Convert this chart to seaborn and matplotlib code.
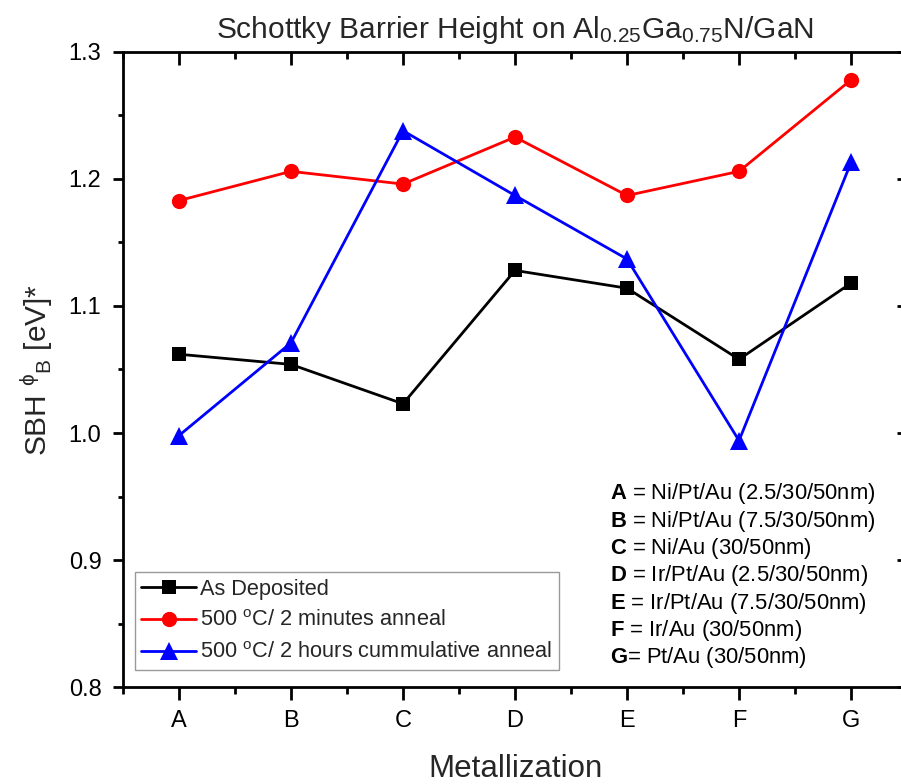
import matplotlib
matplotlib.use("Agg")
import matplotlib.pyplot as plt
import seaborn as sns
import pandas as pd
from matplotlib.ticker import MultipleLocator, FormatStrFormatter
from matplotlib.lines import TICKDOWN, TICKLEFT

sns.set_theme(style="white")
plt.rcParams["font.family"] = ["Liberation Sans", "DejaVu Sans"]
plt.rcParams["mathtext.fontset"] = "custom"
plt.rcParams["mathtext.rm"] = "Liberation Sans"
plt.rcParams["mathtext.it"] = "Liberation Sans:italic"
plt.rcParams["mathtext.bf"] = "Liberation Sans:bold"

categories = ["A", "B", "C", "D", "E", "F", "G"]
as_deposited = [1.062, 1.054, 1.023, 1.128, 1.114, 1.058, 1.118]
anneal_2min = [1.183, 1.206, 1.196, 1.233, 1.187, 1.206, 1.278]
anneal_2h = [0.998, 1.071, 1.238, 1.187, 1.137, 0.994, 1.213]

series_names = [
    "As Deposited",
    r"500 $^{\rm o}$C/ 2 minutes anneal",
    r"500 $^{\rm o}$C/ 2 hours cummulative anneal",
]
metallizations = [
    ("A", " = Ni/Pt/Au (2.5/30/50nm)"),
    ("B", " = Ni/Pt/Au (7.5/30/50nm)"),
    ("C", " = Ni/Au (30/50nm)"),
    ("D", " = Ir/Pt/Au (2.5/30/50nm)"),
    ("E", " = Ir/Pt/Au (7.5/30/50nm)"),
    ("F", " = Ir/Au (30/50nm)"),
    ("G", "= Pt/Au (30/50nm)"),
]

pos = list(range(len(categories)))
df = pd.DataFrame({
    "x": pos * 3,
    "SBH": as_deposited + anneal_2min + anneal_2h,
    "series": [series_names[0]] * 7 + [series_names[1]] * 7 + [series_names[2]] * 7,
})

fig = plt.figure(figsize=(9.01, 7.84), dpi=100)
# the frame runs slightly past the right edge of the canvas
ax = fig.add_axes([0.1365, 0.1237, 0.8702, 0.8100])

styles = [("black", "s", 9.5), ("#ff0000", "o", 11), ("#0000ff", "^", 12.5)]
for name, (color, marker, ms) in zip(series_names, styles):
    sub = df[df["series"] == name]
    sns.lineplot(data=sub, x="x", y="SBH", ax=ax, color=color, marker=marker,
                 markersize=ms, markeredgewidth=0, linewidth=2.0, label=name,
                 errorbar=None)

ax.set_xlim(-0.5, 6.5)
ax.set_ylim(0.8, 1.3)
ax.set_xticks(pos)
ax.set_xticklabels(categories)
ax.xaxis.set_minor_locator(MultipleLocator(0.5))
ax.yaxis.set_major_locator(MultipleLocator(0.1))
ax.yaxis.set_minor_locator(MultipleLocator(0.05))
ax.yaxis.set_major_formatter(FormatStrFormatter("%.1f"))

for side in ["left", "right", "top", "bottom"]:
    ax.spines[side].set_visible(True)
    ax.spines[side].set_color("black")
    ax.spines[side].set_linewidth(2.0)

ax.tick_params(which="both", top=True, right=True, bottom=True, left=True,
               direction="out", width=2, colors="black", labelsize=17)
ax.tick_params(axis="x", which="major", length=9.5, pad=7)
ax.tick_params(axis="x", which="minor", length=5)
ax.tick_params(axis="y", which="major", length=7.5, pad=8)
ax.tick_params(axis="y", which="minor", length=3.8)
# ticks on the top and right edges point inward
for t in ax.xaxis.get_major_ticks() + ax.xaxis.get_minor_ticks():
    t.tick2line.set_marker(TICKDOWN)
for t in ax.yaxis.get_major_ticks() + ax.yaxis.get_minor_ticks():
    t.tick2line.set_marker(TICKLEFT)

ax.set_xlabel("Metallization", fontsize=22.5, labelpad=16)
ax.set_ylabel(r"SBH $^{\mathrm{\phi}}$$_{\rm B}$ [eV]*", fontsize=21.5, labelpad=10)
ax.set_title(r"Schottky Barrier Height on Al$_{0.25}$Ga$_{0.75}$N/GaN",
             fontsize=21.5, pad=10)

leg = ax.legend(loc="lower left", bbox_to_anchor=(0.015, 0.027), fontsize=15.7,
                frameon=True, fancybox=False, handlelength=2.5,
                borderpad=0.3, labelspacing=0.5, handletextpad=0.2,
                borderaxespad=0)
leg.get_frame().set_edgecolor("#808080")
leg.get_frame().set_linewidth(1.0)

y0 = 0.304
dy = 0.043
for i, (letter, rest) in enumerate(metallizations):
    ax.text(0.621, y0 - i * dy, r"$\mathbf{" + letter + "}$" + rest,
            transform=ax.transAxes, fontsize=15.8, ha="left", va="center",
            color="black")

fig.savefig("out.png", dpi=100)
